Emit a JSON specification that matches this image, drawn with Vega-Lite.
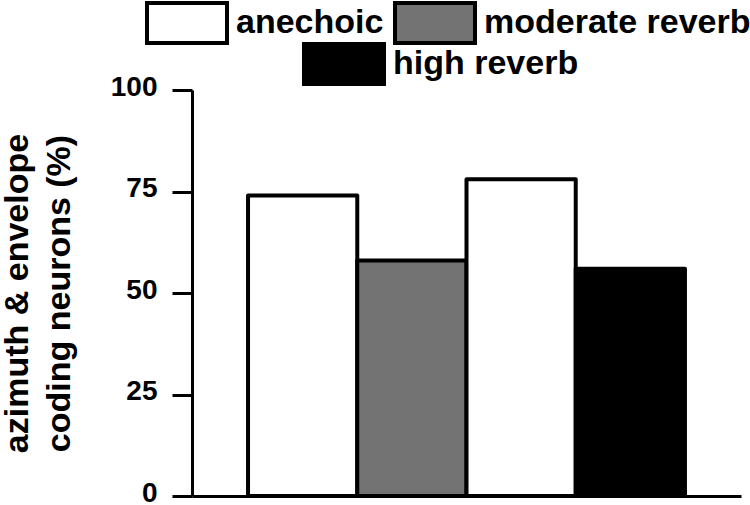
{
  "$schema": "https://vega.github.io/schema/vega-lite/v6.json",
  "width": 549,
  "height": 406,
  "autosize": {"type": "none"},
  "padding": {"left": 192, "top": 90, "right": 9, "bottom": 9},
  "background": "white",
  "config": {"view": {"stroke": null}},
  "data": {
    "values": [
      {"pos": "1", "cond": "anechoic", "value": 74},
      {"pos": "2", "cond": "moderate reverb", "value": 58},
      {"pos": "3", "cond": "anechoic", "value": 78},
      {"pos": "4", "cond": "high reverb", "value": 56}
    ]
  },
  "encoding": {
    "x": {
      "field": "pos", "type": "nominal",
      "scale": {"domain": ["1", "2", "3", "4"], "paddingInner": 0, "paddingOuter": 0.513},
      "axis": {"title": null, "labels": false, "ticks": false, "domain": true, "domainColor": "black", "domainWidth": 3, "grid": false}
    },
    "y": {
      "field": "value", "type": "quantitative",
      "scale": {"domain": [0, 100], "nice": false},
      "axis": {
        "values": [0, 25, 50, 75, 100],
        "grid": false,
        "domainColor": "black", "domainWidth": 3,
        "tickColor": "black", "tickWidth": 3, "tickSize": 20,
        "labelFont": "Liberation Sans", "labelFontWeight": "bold", "labelFontSize": 28, "labelColor": "black", "labelPadding": 15, "labelOffset": -3,
        "title": ["azimuth & envelope", "coding neurons (%)"],
        "titleFont": "Liberation Sans", "titleFontWeight": "bold", "titleFontSize": 34, "titleColor": "black", "titleLineHeight": 42, "titlePadding": 34
      }
    }
  },
  "layer": [
    {
      "transform": [{"filter": "datum.cond != 'high reverb'"}],
      "mark": {"type": "bar", "stroke": "black", "strokeWidth": 4, "strokeJoin": "round"},
      "encoding": {
        "fill": {
          "field": "cond", "type": "nominal",
          "scale": {"domain": ["anechoic", "moderate reverb"], "range": ["white", "#737373"]},
          "legend": {
            "orient": "none", "legendX": -47, "legendY": -109, "direction": "horizontal", "title": null,
            "symbolType": "M-1,-0.5H1V0.5H-1Z", "symbolSize": 6400, "symbolStrokeColor": "black", "symbolStrokeWidth": 4, "symbolOpacity": 1,
            "labelFont": "Liberation Sans", "labelFontWeight": "bold", "labelFontSize": 34, "labelColor": "black", "labelOffset": 7, "labelLimit": 400,
            "columnPadding": 3, "padding": 0
          }
        }
      }
    },
    {
      "transform": [{"filter": "datum.cond == 'high reverb'"}],
      "mark": {"type": "bar", "stroke": "black", "strokeWidth": 4, "strokeJoin": "round"},
      "encoding": {
        "fill": {
          "field": "cond", "type": "nominal",
          "scale": {"domain": ["high reverb"], "range": ["black"]},
          "legend": {
            "orient": "none", "legendX": 110, "legendY": -68, "direction": "horizontal", "title": null,
            "symbolType": "M-1,-0.5H1V0.5H-1Z", "symbolSize": 6400, "symbolStrokeColor": "black", "symbolStrokeWidth": 4, "symbolOpacity": 1,
            "labelFont": "Liberation Sans", "labelFontWeight": "bold", "labelFontSize": 34, "labelColor": "black", "labelOffset": 7, "labelLimit": 400,
            "padding": 0
          }
        }
      }
    }
  ],
  "resolve": {"scale": {"fill": "independent"}, "legend": {"fill": "independent"}}
}
